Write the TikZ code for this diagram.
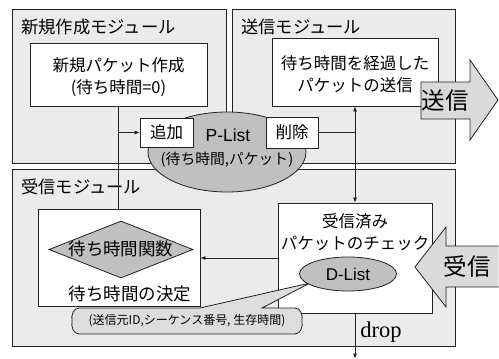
\documentclass[tikz,border=0pt]{standalone}
\usepackage{fontspec}
\setmainfont{Noto Sans CJK JP}
\newfontfamily\latinsans{Liberation Sans}
\newfontfamily\serifdrop{Liberation Serif}
\usetikzlibrary{shapes.geometric,arrows.meta}
\definecolor{modfill}{HTML}{EBEBEB}
\definecolor{ellfill}{HTML}{C0C0C0}
\definecolor{arrfill}{HTML}{DADADA}
\definecolor{notefill}{HTML}{DDDDDD}
\definecolor{linecol}{HTML}{222222}
\tikzset{
  module/.style={draw=linecol, line width=0.8pt, fill=modfill, inner sep=0pt},
  box/.style={draw=linecol, line width=0.8pt, fill=white, inner sep=0pt, align=center},
  ell/.style={ellipse, draw=linecol, line width=0.8pt, fill=ellfill, inner sep=0pt},
  modtitle/.style={inner sep=0pt, font=\fontsize{17.3}{20}\selectfont},
  boxtext/.style={inner sep=0pt, align=center, font=\fontsize{16.5}{22}\selectfont},
  conn/.style={draw=linecol, line width=0.7pt},
  tip/.style={-{Latex[length=5pt,width=4pt]}},
  bigarrow/.style={draw=linecol, line width=0.8pt, fill=arrfill},
}
\begin{document}
\begin{tikzpicture}[x=1pt,y=-1pt]
\useasboundingbox (0,0) rectangle (499,359);

% modules
\node[module, minimum width=214pt, minimum height=154pt] (mnew) at (119,86) {};
\node[module, minimum width=223pt, minimum height=154pt] (msend) at (343.5,86) {};
\node[module, minimum width=443pt, minimum height=177pt] (mrecv) at (233.5,257.5) {};
\node[modtitle, anchor=west] (tnew) at (21,27) {新規作成モジュール};
\node[modtitle, anchor=west] (tsend) at (241,27) {送信モジュール};
\node[modtitle, anchor=west] (trecv) at (21,187) {受信モジュール};

% boxes in upper modules
\node[box, minimum width=177pt, minimum height=63pt] (bnew) at (118.5,74.5) {};
\node[boxtext] (tbnew) at (118.5,77.5) {新規パケット作成\\(待ち時間=0)};
\node[box, minimum width=166pt, minimum height=68pt] (bsend) at (355,72) {};
\node[boxtext] (tbsend) at (355,74.5) {待ち時間を経過した\\パケットの送信};

% P-List
\node[ell, minimum width=158pt, minimum height=80pt] (plist) at (227,152) {};
\node[inner sep=0pt, font=\fontsize{17.5}{19}\selectfont\latinsans] (tplist) at (228,135) {P-List};
\node[inner sep=0pt, font=\fontsize{14.8}{17}\selectfont] (tplist2) at (227,160) {(待ち時間,パケット)};
\node[box, minimum width=53pt, minimum height=29pt, font=\fontsize{16.5}{20}\selectfont] (add) at (166.5,132.5) {追加};
\node[box, minimum width=52pt, minimum height=31pt, font=\fontsize{16.5}{20}\selectfont] (del) at (292,132.5) {削除};

% receive module
\node[box, minimum width=162pt, minimum height=97pt] (decide) at (119,257.5) {};
\node[diamond, draw=linecol, line width=0.8pt, fill=ellfill, minimum width=144pt, minimum height=57pt, inner sep=0pt, aspect=2.5] (func) at (121,249.5) {};
\node[inner sep=0pt, font=\fontsize{17.5}{20}\selectfont] (tfunc) at (121,249) {待ち時間関数};
\node[inner sep=0pt, font=\fontsize{17.5}{20}\selectfont] (tdecide) at (130,294) {待ち時間の決定};

\node[box, minimum width=154pt, minimum height=110pt] (check) at (355,258) {};
\node[boxtext] (tcheck) at (355,232) {受信済み\\パケットのチェック};

% callout
\draw[line width=0.8pt, draw=linecol, fill=notefill]
  (200,308) -- (310,283) -- (262,308) -- (295,308)
  to[out=0,in=80] (302,321) to[out=-80,in=0] (295,334) -- (79,334)
  to[out=180,in=-100] (72,321) to[out=100,in=180] (79,308) -- cycle;
\node[inner sep=0pt, font=\fontsize{12}{14}\selectfont] (tnote) at (187,321) {(送信元ID,シーケンス番号, 生存時間)};

\node[ell, minimum width=97pt, minimum height=34pt, font=\fontsize{17}{19}\selectfont\latinsans] (dlist) at (348,274) {D-List};

% big arrows
\draw[bigarrow] (421,82) -- (470,82) -- (470,60) -- (498,100) -- (470,140) -- (470,119) -- (421,119) -- cycle;
\node[inner sep=0pt, font=\fontsize{23.5}{26}\selectfont] (tsendarr) at (445,101) {送信};
\draw[bigarrow] (498.5,246) -- (446,246) -- (446,227) -- (415,267) -- (446,307) -- (446,287) -- (498.5,287);
\node[inner sep=0pt, font=\fontsize{23.5}{26}\selectfont] (trecvarr) at (467,267) {受信};

% connectors
\coordinate (jnew) at (bnew.south |- add.west);
\draw[conn] (bnew.south) -- (bnew.south |- decide.north);
\draw[conn, tip] (jnew) -- (add.west);
\coordinate (jdel) at (del.east -| bsend.south);
\draw[conn] (del.east) -- (jdel);
\draw[conn, {Latex[length=5pt,width=4pt]}-{Latex[length=5pt,width=4pt]}] (bsend.south) -- (check.north);
\draw[conn, tip] (check.west) -- (check.west -| decide.east);
\coordinate (dropend) at (355,358.5);
\draw[conn, tip] (check.south) -- (dropend);
\node[inner sep=0pt, font=\fontsize{22.5}{24}\selectfont\serifdrop] (tdrop) at (381,332) {drop};
\end{tikzpicture}
\end{document}
